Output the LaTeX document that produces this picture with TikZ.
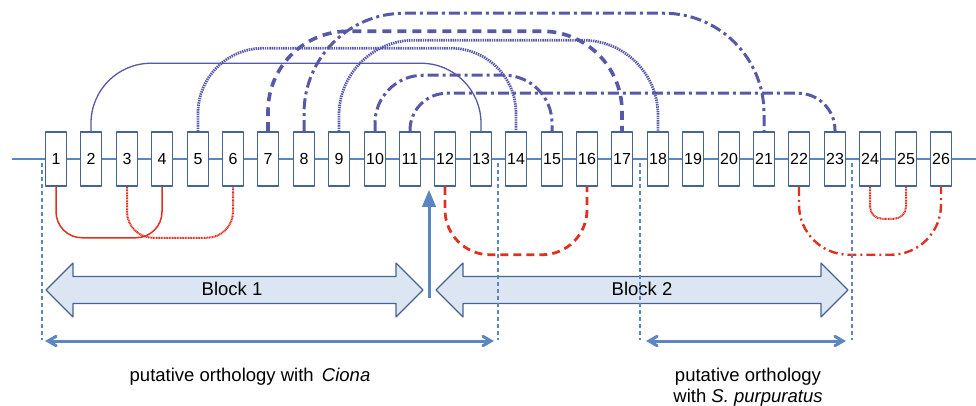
\documentclass[tikz,border=0pt]{standalone}
\usepackage{fontspec}
\setmainfont{Liberation Sans}
\usepackage{tikz}
\usetikzlibrary{arrows}

\definecolor{linkblue}{RGB}{88,88,168}
\definecolor{linkred}{RGB}{224,48,30}
\definecolor{axisblue}{RGB}{91,134,194}
\definecolor{boxline}{RGB}{70,100,145}
\definecolor{blockfill}{RGB}{220,230,242}

\tikzset{
  gene/.style={draw=boxline,line width=1.5pt,fill=white,minimum width=21pt,minimum height=54pt,inner sep=0pt,font=\fontsize{16}{16}\selectfont},
  upper/.style={linkblue,line cap=butt},
  lower/.style={linkred,line cap=butt},
  thinline/.style={line width=1.3pt},
  dotline/.style={line width=2.8pt,dash pattern=on 1.4pt off 0.9pt},
  dashline/.style={line width=3.6pt,dash pattern=on 9pt off 6pt},
  dashdotline/.style={line width=3pt,dash pattern=on 11pt off 4pt on 3pt off 4pt},
  bound/.style={axisblue,line width=2.4pt,dash pattern=on 4pt off 3pt},
  block/.style={draw=boxline,line width=1.1pt,fill=blockfill},
  lbl/.style={font=\fontsize{18.5}{21}\selectfont}
}

\begin{document}
\begin{tikzpicture}[line join=round,x=1pt,y=-1pt]
\useasboundingbox (0,0) rectangle (976,406);
% chromosome axis and genes
\coordinate (axl) at (12,159);
\coordinate (axr) at (976,159);
\draw [axisblue,line width=1.4pt] (axl) -- (axr);
\foreach \i in {1,...,26}
  \node[gene] (g\i) at ({round(56+35.4*(\i-1))},159) {\i};
% links above the axis
\draw [upper,thinline,rounded corners=60pt] (g2.north) -- ++(0,-68) -| (g13.north);
\draw [upper,dotline,rounded corners=65pt] (g5.north) -- ++(0,-83) -| (g14.north);
\draw [upper,dashline,rounded corners=80pt] (g7.north) -- ++(0,-100) -| (g17.north);
\draw [upper,dashdotline,rounded corners=100pt] (g8.north) -- ++(0,-118) -| (g21.north);
\draw [upper,dotline,rounded corners=75pt] (g9.north) -- ++(0,-91) -| (g18.north);
\draw [upper,dashdotline,rounded corners=48pt] (g10.north) -- ++(0,-56) -| (g15.north);
\draw [upper,dashdotline,rounded corners=37pt] (g11.north) -- ++(0,-38) -| (g23.north);
% links below the axis
\draw [lower,line width=1.5pt,rounded corners=26pt] (g1.south) -- ++(0,51) -| (g4.south);
\draw [lower,line width=2pt,dash pattern=on 1pt off 0.6pt,rounded corners=26pt] (g3.south) -- ++(0,51) -| (g6.south);
\draw [lower,line width=2.8pt,dash pattern=on 8pt off 5pt,rounded corners=45pt] (g12.south) -- ++(0,68) -| (g16.south);
\draw [lower,line width=2.4pt,dash pattern=on 9pt off 4pt on 2pt off 4pt,rounded corners=50pt] (g22.south) -- ++(0,68) -| (g26.south);
\draw [lower,line width=2pt,dash pattern=on 1pt off 0.6pt,rounded corners=12pt] (g24.south) -- ++(0,32) -| (g25.south);
% breakpoint
\coordinate (brk0) at (429,298);
\coordinate (brk1) at (429,190);
\draw [axisblue,line width=3pt,-triangle 45] (brk0) -- (brk1);
% blocks
\draw [block] (46,290) -- (73,263) -- (73,276.5) -- (396,276.5) -- (396,263) -- (423,290)
  -- (396,317) -- (396,303.5) -- (73,303.5) -- (73,317) -- cycle;
\node[lbl] (blk1) at (232,289) {Block 1};
\draw [block] (436,290) -- (463,263) -- (463,276.5) -- (821,276.5) -- (821,263) -- (848,290)
  -- (821,317) -- (821,303.5) -- (463,303.5) -- (463,317) -- cycle;
\node[lbl] (blk2) at (642,289) {Block 2};
% regions of orthology
\foreach \x/\n in {42/a,498/b,640/c,852/d} {
  \coordinate (\n0) at (\x,163);
  \coordinate (\n1) at (\x,340);
  \draw [bound] (\n0) -- (\n1);
}
\coordinate (ci0) at (45,341);
\coordinate (ci1) at (494,341);
\coordinate (sp0) at (646,341);
\coordinate (sp1) at (846,341);
\draw [axisblue,line width=3pt,>=angle 60,<->] (ci0) -- (ci1);
\draw [axisblue,line width=3pt,>=angle 60,<->] (sp0) -- (sp1);
\node[lbl] (ciona) at (250,377) {putative orthology with \,\textit{Ciona}};
\node[lbl,align=center] (spurp) at (748,387) {putative orthology\\with \textit{S. purpuratus}};
\end{tikzpicture}
\end{document}
